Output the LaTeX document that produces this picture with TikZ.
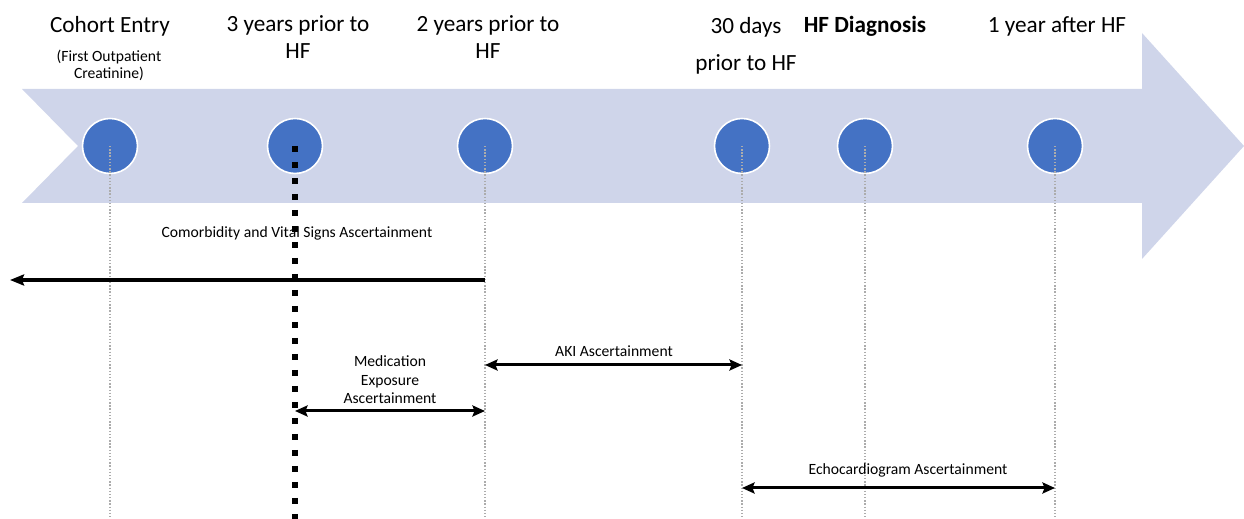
\documentclass[tikz,border=0pt]{standalone}
\usepackage{fontspec}
\setmainfont{Carlito}
\usetikzlibrary{arrows.meta,positioning,calc}
\definecolor{bandfill}{HTML}{CFD5EA}
\definecolor{dotfill}{HTML}{4472C4}

\begin{document}
\begin{tikzpicture}[
    x=0.02cm, y=-0.02cm,
    font=\fontsize{8.9}{10.6}\selectfont,
    milestone/.style={circle, draw=white, line width=0.9pt, fill=dotfill, minimum size=1.1cm, inner sep=0pt},
    title/.style={align=center, anchor=base, font=\fontsize{13.2}{15.4}\selectfont},
    note/.style={align=center, anchor=base, font=\fontsize{8.9}{10.6}\selectfont},
    guide/.style={draw=gray!65, line width=0.8pt, dash pattern=on 0.8pt off 1pt},
    cutoff/.style={draw=black, line width=0.12cm, dash pattern=on 0.12cm off 0.2cm},
    span/.style={line width=0.06cm, {Stealth[length=0.25cm, width=0.22cm, inset=0.04cm]}-{Stealth[length=0.25cm, width=0.22cm, inset=0.04cm]}},
    lookback/.style={line width=0.08cm, -{Stealth[length=0.28cm, width=0.22cm, inset=0.04cm]}}
  ]
  \useasboundingbox (0,0) rectangle (1244,519);

  % Timeline band
  \fill[bandfill] (22,89) -- (1142,89) -- (1142,33) -- (1244,146) -- (1142,259)
    -- (1142,203) -- (22,203) -- (78,146) -- cycle;

  % Milestones
  \node[milestone] (entry) at (110,146) {};
  \node[milestone] (threey) at (295,146) {};
  \node[milestone] (twoy) at (485,146) {};
  \node[milestone] (thirtyd) at (742,146) {};
  \node[milestone] (hfdx) at (865,146) {};
  \node[milestone] (oneyr) at (1055,146) {};

  \coordinate (bottom) at (0,519);

  % Guide lines
  \foreach \m in {entry,twoy,thirtyd,hfdx,oneyr}
    \draw[guide] (\m.center) -- (\m.center |- bottom);

  % Milestone labels (base = last line)
  \node[title] (entry-lbl) at (110,33) {Cohort Entry};
  \node[note, font=\fontsize{8.9}{9.7}\selectfont] (entry-sub) at (109,79) {(First Outpatient\\Creatinine)};
  \node[title] (threey-lbl) at (298,59) {3 years prior to\\HF};
  \node[title] (twoy-lbl) at (488,59) {2 years prior to\\HF};
  \node[title] (thirtyd-lbl) at (746,71) {30 days\\[6pt]prior to HF};
  \node[title, font=\fontsize{13.2}{15.4}\selectfont\bfseries] (hfdx-lbl) at (865,33) {HF Diagnosis};
  \node[title] (oneyr-lbl) at (1057,33) {1 year after HF};

  % Windows
  \coordinate (comorb-r) at (twoy |- 0,280);
  \coordinate (comorb-l) at (10,280);
  \node[note] (comorb-lbl) at (297,238) {Comorbidity and Vital Signs Ascertainment};
  \draw[lookback] (comorb-r) -- (comorb-l);

  \coordinate (med-l) at (threey |- 0,411);
  \coordinate (med-r) at (twoy |- 0,411);
  \node[note] (med-lbl) at (390,404) {Medication\\Exposure\\Ascertainment};
  \draw[span] (med-l) -- (med-r);

  \coordinate (aki-l) at (twoy |- 0,365);
  \coordinate (aki-r) at (thirtyd |- 0,365);
  \node[note] (aki-lbl) at (614,357) {AKI Ascertainment};
  \draw[span] (aki-l) -- (aki-r);

  \coordinate (echo-l) at (thirtyd |- 0,488);
  \coordinate (echo-r) at (oneyr |- 0,488);
  \node[note] (echo-lbl) at (908,475) {Echocardiogram Ascertainment};
  \draw[span] (echo-l) -- (echo-r);

  % Cut-off at 3 years prior to HF
  \draw[cutoff] (threey.center) -- (threey.center |- bottom);

\end{tikzpicture}
\end{document}
